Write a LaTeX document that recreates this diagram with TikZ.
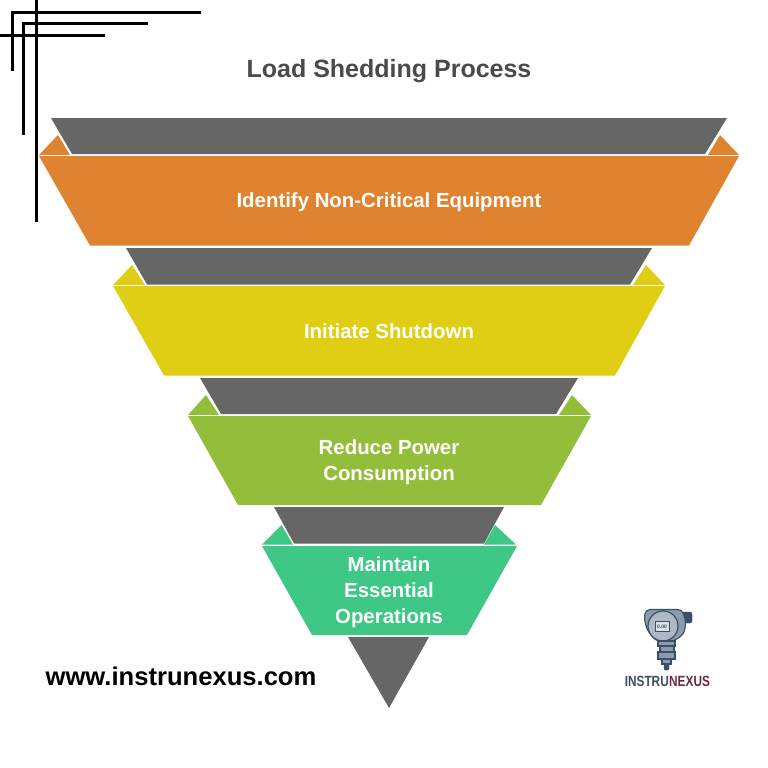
\documentclass[tikz,border=0pt]{standalone}
\usepackage{fontspec}
\setmainfont{Liberation Sans}
\definecolor{gry}{HTML}{666666}
\definecolor{org}{HTML}{DF8330}
\definecolor{yel}{HTML}{E0CE15}
\definecolor{grn}{HTML}{93BE3A}
\definecolor{teal2}{HTML}{3EC785}
\definecolor{ttl}{HTML}{4A4A4A}
\definecolor{navy}{HTML}{3A4F66}
\definecolor{wine}{HTML}{6E2B35}
\definecolor{steel}{HTML}{8C9BAD}
\tikzset{
 rule/.style={line width=2.1pt,black},
 band/.style={font=\bfseries\fontsize{20.4}{26}\selectfont,text=white,align=center},
 lg/.style={fill=steel,draw=navy,line width=1.1pt}
}
\begin{document}
\begin{tikzpicture}[x=1pt,y=-1pt]
\useasboundingbox (0,0) rectangle (768,768);
\fill[white] (0,0) rectangle (768,768);
% corner rules
\draw[rule] (36.5,0) -- (36.5,222);
\draw[rule] (12.5,71) -- (12.5,12.5) -- (201,12.5);
\draw[rule] (23.5,135) -- (23.5,23.5) -- (148,23.5);
\draw[rule] (0,35.5) -- (105,35.5);
\node[font=\bfseries\fontsize{25}{30}\selectfont,text=ttl] (title) at (389,71.5) {Load Shedding Process};
% tier 1
\fill[gry] (51,118) -- (727,118) -- (705,154) -- (72,154) -- cycle;
\fill[org] (39,155) -- (58,135) -- (70,155) -- cycle;
\fill[org] (739,155) -- (720,135) -- (708,155) -- cycle;
\fill[org] (39,156) -- (739,156) -- (689,245.5) -- (90,245.5) -- cycle;
\node[band] (a) at (389,202.5) {Identify Non-Critical Equipment};
% tier 2
\fill[gry] (126,248) -- (652,248) -- (630,284.5) -- (147,284.5) -- cycle;
\fill[yel] (113,285) -- (132,265) -- (145,285) -- cycle;
\fill[yel] (665,285) -- (646,265) -- (633,285) -- cycle;
\fill[yel] (113,286) -- (665,286) -- (615,375.5) -- (164,375.5) -- cycle;
\node[band] (b) at (389,331) {Initiate Shutdown};
% tier 3
\fill[gry] (200,378) -- (578,378) -- (556,414) -- (221,414) -- cycle;
\fill[grn] (188,415) -- (206,395) -- (219,415) -- cycle;
\fill[grn] (591,415) -- (572,395) -- (559,415) -- cycle;
\fill[grn] (188,416) -- (591,416) -- (541,505) -- (238,505) -- cycle;
\node[band] (c) at (389,462.5) {Reduce Power\\Consumption};
% tier 4
\fill[gry] (274,507) -- (504,507) -- (484,543.5) -- (294,543.5) -- cycle;
\fill[teal2] (262,544.5) -- (281.5,525) -- (293,544.5) -- cycle;
\fill[teal2] (516,544.5) -- (495,525) -- (484,544.5) -- cycle;
\fill[teal2] (262,546) -- (517,546) -- (467,635) -- (312,635) -- cycle;
\node[band] (d) at (389,592.5) {Maintain\\Essential\\Operations};
% tip
\fill[gry] (348,637) -- (429,637) -- (389,708) -- cycle;
\node[font=\bfseries\fontsize{25.6}{30}\selectfont,text=black] (web) at (181,676.5) {www.instrunexus.com};
% logo
\draw[fill=navy,draw=navy,rounded corners=2pt] (682,612) rectangle (692,623);
\draw[lg,rounded corners=4pt] (646,609.5) -- (682,609.5) -- (686,622) -- (684,634) -- (674,641) -- (656,641) -- (647,630) -- (644,618) -- cycle;
\draw[fill=steel!70,draw=navy,line width=1.2pt] (663,626) circle (15);
\draw[fill=white!70!steel,draw=navy,line width=1pt] (655,621.5) rectangle (669,631);
\node[font=\bfseries\fontsize{5}{5}\selectfont,text=navy,inner sep=0] (lcd) at (662,626.5) {0.00};
\draw[lg] (658,641) rectangle (675,646);
\draw[lg] (660,646) rectangle (674,652);
\draw[lg] (658,652) rectangle (675,659);
\draw[lg] (662,659) rectangle (671,664);
\draw[fill=navy,draw=navy,rounded corners=1pt] (664,664) rectangle (669,670);
\node[font=\bfseries\fontsize{14.8}{16}\selectfont,text=navy,anchor=east,inner sep=0,xscale=.8] (l1) at (669,681.5) {INSTRU};
\node[font=\bfseries\fontsize{14.8}{16}\selectfont,text=wine,anchor=west,inner sep=0,xscale=.8] (l2) at (669,681.5) {NEXUS};
\end{tikzpicture}
\end{document}
